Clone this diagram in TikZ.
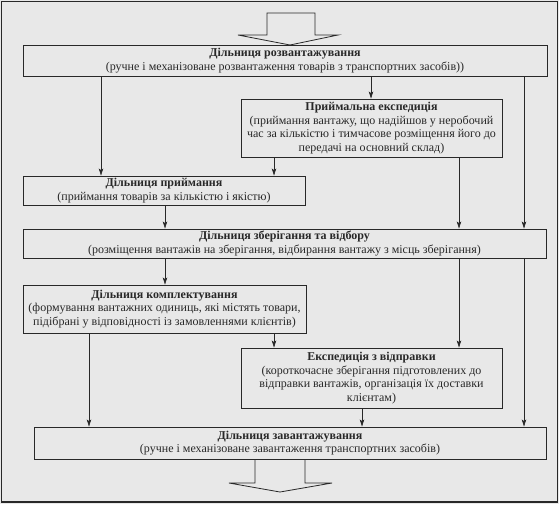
\documentclass[tikz,border=0pt]{standalone}
\usepackage{fontspec}
\setmainfont{Liberation Serif}
\usetikzlibrary{arrows.meta}
\definecolor{bg}{RGB}{232,232,232}
\definecolor{ink}{RGB}{40,40,40}
\begin{document}
\begin{tikzpicture}[x=1pt,y=-1pt,
 box/.style={draw=ink, line width=0.9pt, align=center, inner sep=1pt, font=\fontsize{12}{13.5}\selectfont, text=ink},
 arr/.style={draw=ink, line width=0.7pt, -{Stealth[length=7pt,width=4.5pt,inset=1.5pt]}},
 hollow/.style={draw=ink, line width=0.8pt, line join=miter}]
\useasboundingbox (0,0) rectangle (559,504);
\fill[bg] (0,0) rectangle (559,504);
\draw[ink, line width=1.5pt] (1.5,1.5) rectangle (557.5,502);

\node[box, minimum width=524pt, minimum height=31pt] (b1) at (285,60.5)
 {\textbf{Дільниця розвантажування}\\(ручне і механізоване розвантаження товарів з транспортних засобів))};
\node[box, minimum width=261pt, minimum height=58pt] (pe) at (371.5,128)
 {\textbf{Приймальна експедиція}\\(приймання вантажу, що надійшов у неробочий\\час за кількістю і тимчасове розміщення його до\\передачі на основний склад)};
\node[box, minimum width=282pt, minimum height=29pt] (pr) at (164,190.5)
 {\textbf{Дільниця приймання}\\(приймання товарів за кількістю і якістю)};
\node[box, minimum width=523pt, minimum height=29pt] (zb) at (284.5,243.5)
 {\textbf{Дільниця зберігання та відбору}\\(розміщення вантажів на зберігання, відбирання вантажу з місць зберігання)};
\node[box, minimum width=283pt, minimum height=48pt] (km) at (164.5,309)
 {\textbf{Дільниця комплектування}\\(формування вантажних одиниць, які містять товари,\\підібрані у відповідності із замовленнями клієнтів)};
\node[box, minimum width=261pt, minimum height=60pt] (ev) at (371.5,378)
 {\textbf{Експедиція з відправки}\\(короткочасне зберігання підготовлених до\\відправки вантажів, організація їх доставки\\клієнтам)};
\node[box, minimum width=512pt, minimum height=32pt] (zv) at (290,443)
 {\textbf{Дільниця завантажування}\\(ручне і механізоване завантаження транспортних засобів)};

% hollow arrows
\draw[hollow] (267,13) -- (267,35) -- (238,35) -- (290,45) -- (338,35) -- (315,35) -- (315,13) -- cycle;
\draw[hollow] (255,459) -- (255,483) -- (229,483) -- (280,492) -- (332,483) -- (305,483) -- (305,459);

% connectors
\draw[arr] (101,0 |- b1.south) -- (101,0 |- pr.north);
\draw[arr] (371,0 |- b1.south) -- (371,0 |- pe.north);
\draw[arr] (524,0 |- b1.south) -- (524,0 |- zb.north);
\draw[arr] (274,0 |- pe.south) -- (274,0 |- pr.north);
\draw[arr] (459,0 |- pe.south) -- (459,0 |- zb.north);
\draw[arr] (165,0 |- pr.south) -- (165,0 |- zb.north);
\draw[arr] (165,0 |- zb.south) -- (165,0 |- km.north);
\draw[arr] (459,0 |- zb.south) -- (459,0 |- ev.north);
\draw[arr] (524,0 |- zb.south) -- (524,0 |- zv.north);
\draw[arr] (274,0 |- km.south) -- (274,0 |- ev.north);
\draw[arr] (89,0 |- km.south) -- (89,0 |- zv.north);
\draw[arr] (362,0 |- ev.south) -- (362,0 |- zv.north);
\end{tikzpicture}
\end{document}
